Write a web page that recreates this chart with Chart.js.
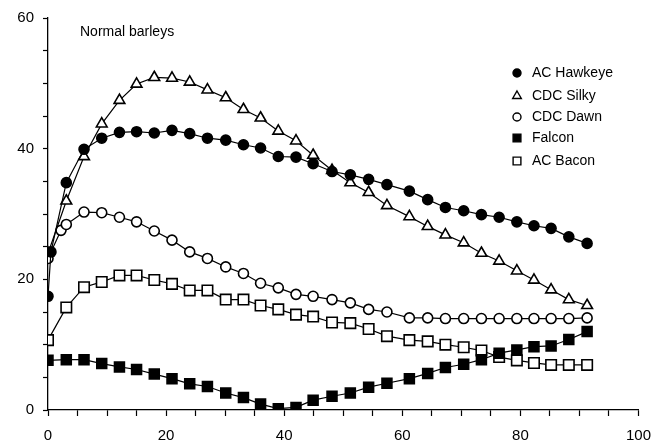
<!DOCTYPE html>
<html lang="en">
<head>
<meta charset="UTF-8">
<title>Normal barleys</title>
<script src="https://cdn.jsdelivr.net/npm/chart.js"></script>
<style>
  html, body { margin: 0; padding: 0; background: #fff; }
  canvas { display: block; }
</style>
</head>
<body>
<canvas id="grafico" width="662" height="448"></canvas>
<script>
// sampling points shared by every line
const xValues = [0, 3.1, 6.1, 9.1, 12.1, 15.0, 18.0, 21.0, 24.0, 27.0, 30.1, 33.1, 36.0, 39.0, 42.0, 44.9,
                 48.1, 51.2, 54.3, 57.4, 61.2, 64.3, 67.3, 70.4, 73.4, 76.4, 79.4, 82.3, 85.2, 88.2, 91.3];

const seriesNames = ['AC Hawkeye', 'CDC Silky', 'CDC Dawn', 'Falcon', 'AC Bacon'];

const hawkeye = [17.4, 34.8, 39.9, 41.6, 42.5, 42.6, 42.4, 42.8, 42.3, 41.6, 41.3, 40.6, 40.1, 38.8, 38.7, 37.7,
                 36.5, 36.0, 35.3, 34.5, 33.5, 32.2, 31.0, 30.5, 29.9, 29.5, 28.8, 28.2, 27.8, 26.5, 25.5];
const silky   = [24.0, 32.0, 38.8, 43.8, 47.4, 49.9, 50.9, 50.8, 50.2, 49.0, 47.8, 46.0, 44.7, 42.7, 41.2, 39.0,
                 36.7, 34.8, 33.3, 31.3, 29.6, 28.1, 26.8, 25.6, 24.0, 22.8, 21.3, 19.9, 18.4, 16.9, 16.0];
const dawn    = [23.2, 28.4, 30.3, 30.2, 29.5, 28.8, 27.4, 26.0, 24.2, 23.2, 21.9, 20.9, 19.4, 18.7, 17.7, 17.4,
                 16.9, 16.4, 15.4, 15.0, 14.1, 14.1, 14.0, 14.0, 14.0, 14.0, 14.0, 14.0, 14.0, 14.0, 14.1];
const falcon  = [7.6, 7.7, 7.7, 7.1, 6.6, 6.2, 5.5, 4.8, 4.0, 3.6, 2.6, 1.9, 0.9, 0.2, 0.4, 1.5,
                 2.1, 2.6, 3.5, 4.1, 4.8, 5.6, 6.5, 7.0, 7.7, 8.7, 9.2, 9.7, 9.8, 10.8, 12.0];
const bacon   = [10.7, 15.7, 18.8, 19.6, 20.6, 20.6, 19.9, 19.3, 18.3, 18.3, 16.9, 16.9, 16.0, 15.4, 14.6, 14.3,
                 13.4, 13.3, 12.4, 11.3, 10.7, 10.5, 10.0, 9.6, 9.1, 8.1, 7.6, 7.2, 6.9, 6.9, 6.9];

// extra readings taken right after the start
const hawkeyeEarlyX = [0.5];
const hawkeyeEarlyY = [24.2];
const dawnEarlyX = [2.2];
const dawnEarlyY = [27.5];

const xTicks = [0, 20, 40, 60, 80, 100];
const yTicks = [0, 20, 40, 60];

function montarPontos(valores, extraX, extraY) {
    let pontos = xValues.map((x, i) => ({ x: x, y: valores[i] }));
    if (extraX) {
        extraX.forEach((x, i) => pontos.push({ x: x, y: extraY[i] }));
        pontos.sort((a, b) => a.x - b.x);
    }
    return pontos;
}

function serie(nome, dados, estilo, raio, preenchido) {
    return {
        label: nome,
        data: dados,
        showLine: true,
        tension: 0,
        borderColor: '#000',
        borderWidth: 1.2,
        pointStyle: estilo,
        pointRadius: raio,
        pointHoverRadius: raio,
        pointBorderWidth: 1.6,
        pointBorderColor: '#000',
        pointBackgroundColor: preenchido ? '#000' : '#fff'
    };
}

const datasets = [
    serie(seriesNames[0], montarPontos(hawkeye, hawkeyeEarlyX, hawkeyeEarlyY), 'circle', 5, true),
    serie(seriesNames[1], montarPontos(silky), 'triangle', 6.2, false),
    serie(seriesNames[2], montarPontos(dawn, dawnEarlyX, dawnEarlyY), 'circle', 5, false),
    serie(seriesNames[3], montarPontos(falcon), 'rect', 7, true),
    serie(seriesNames[4], montarPontos(bacon), 'rect', 7.4, false)
];

// caption and legend drawn on top of the plot
const legenda = {
    id: 'legenda',
    afterDraw(chart) {
        const ctx = chart.ctx;
        ctx.save();
        ctx.fillStyle = '#000';
        ctx.font = '14px "Liberation Sans", Arial, sans-serif';
        ctx.textBaseline = 'middle';
        ctx.textAlign = 'left';
        ctx.fillText('Normal barleys', 80, 32);

        const linhas = [73, 96, 117, 138, 161];
        const raios = [4, 5, 4, 5.5, 5.5];
        ctx.font = '14px "Liberation Sans", Arial, sans-serif';
        chart.data.datasets.forEach((ds, i) => {
            const y = linhas[i];
            ctx.fillStyle = ds.pointBackgroundColor;
            ctx.strokeStyle = '#000';
            ctx.lineWidth = 1.4;
            Chart.helpers.drawPoint(ctx, {
                pointStyle: ds.pointStyle, radius: raios[i], rotation: 0, borderWidth: 1.4
            }, 517, y);
            ctx.fillStyle = '#000';
            ctx.fillText(ds.label, 532, y);
        });
        ctx.restore();
    }
};

const fonteEixo = { family: '"Liberation Sans", Arial, sans-serif', size: 15 };

new Chart(document.getElementById('grafico'), {
    type: 'scatter',
    data: { datasets: datasets },
    options: {
        responsive: false,
        animation: false,
        devicePixelRatio: 1,
        layout: { padding: { left: 0, top: 11, right: 23, bottom: 0 } },
        plugins: {
            legend: { display: false },
            tooltip: { enabled: false }
        },
        scales: {
            x: {
                type: 'linear',
                min: 0,
                max: 100,
                afterFit: (s) => { s.height = 38; },
                border: { display: true, color: '#000', width: 1.3 },
                grid: { drawOnChartArea: false, drawTicks: true, tickLength: 6, color: '#000', tickWidth: 1.2 },
                ticks: {
                    stepSize: 5,
                    color: '#000',
                    font: fonteEixo,
                    padding: 11,
                    maxRotation: 0,
                    autoSkip: false,
                    callback: (v) => xTicks.includes(v) ? String(v) : ''
                }
            },
            y: {
                type: 'linear',
                min: 0,
                max: 60,
                afterFit: (s) => { s.width = 48; },
                border: { display: true, color: '#000', width: 1.3 },
                grid: { drawOnChartArea: false, drawTicks: true, tickLength: 5, color: '#000', tickWidth: 1.2 },
                ticks: {
                    stepSize: 5,
                    color: '#000',
                    font: fonteEixo,
                    padding: 9,
                    autoSkip: false,
                    callback: (v) => yTicks.includes(v) ? String(v) : ''
                }
            }
        }
    },
    plugins: [legenda]
});
</script>
</body>
</html>
